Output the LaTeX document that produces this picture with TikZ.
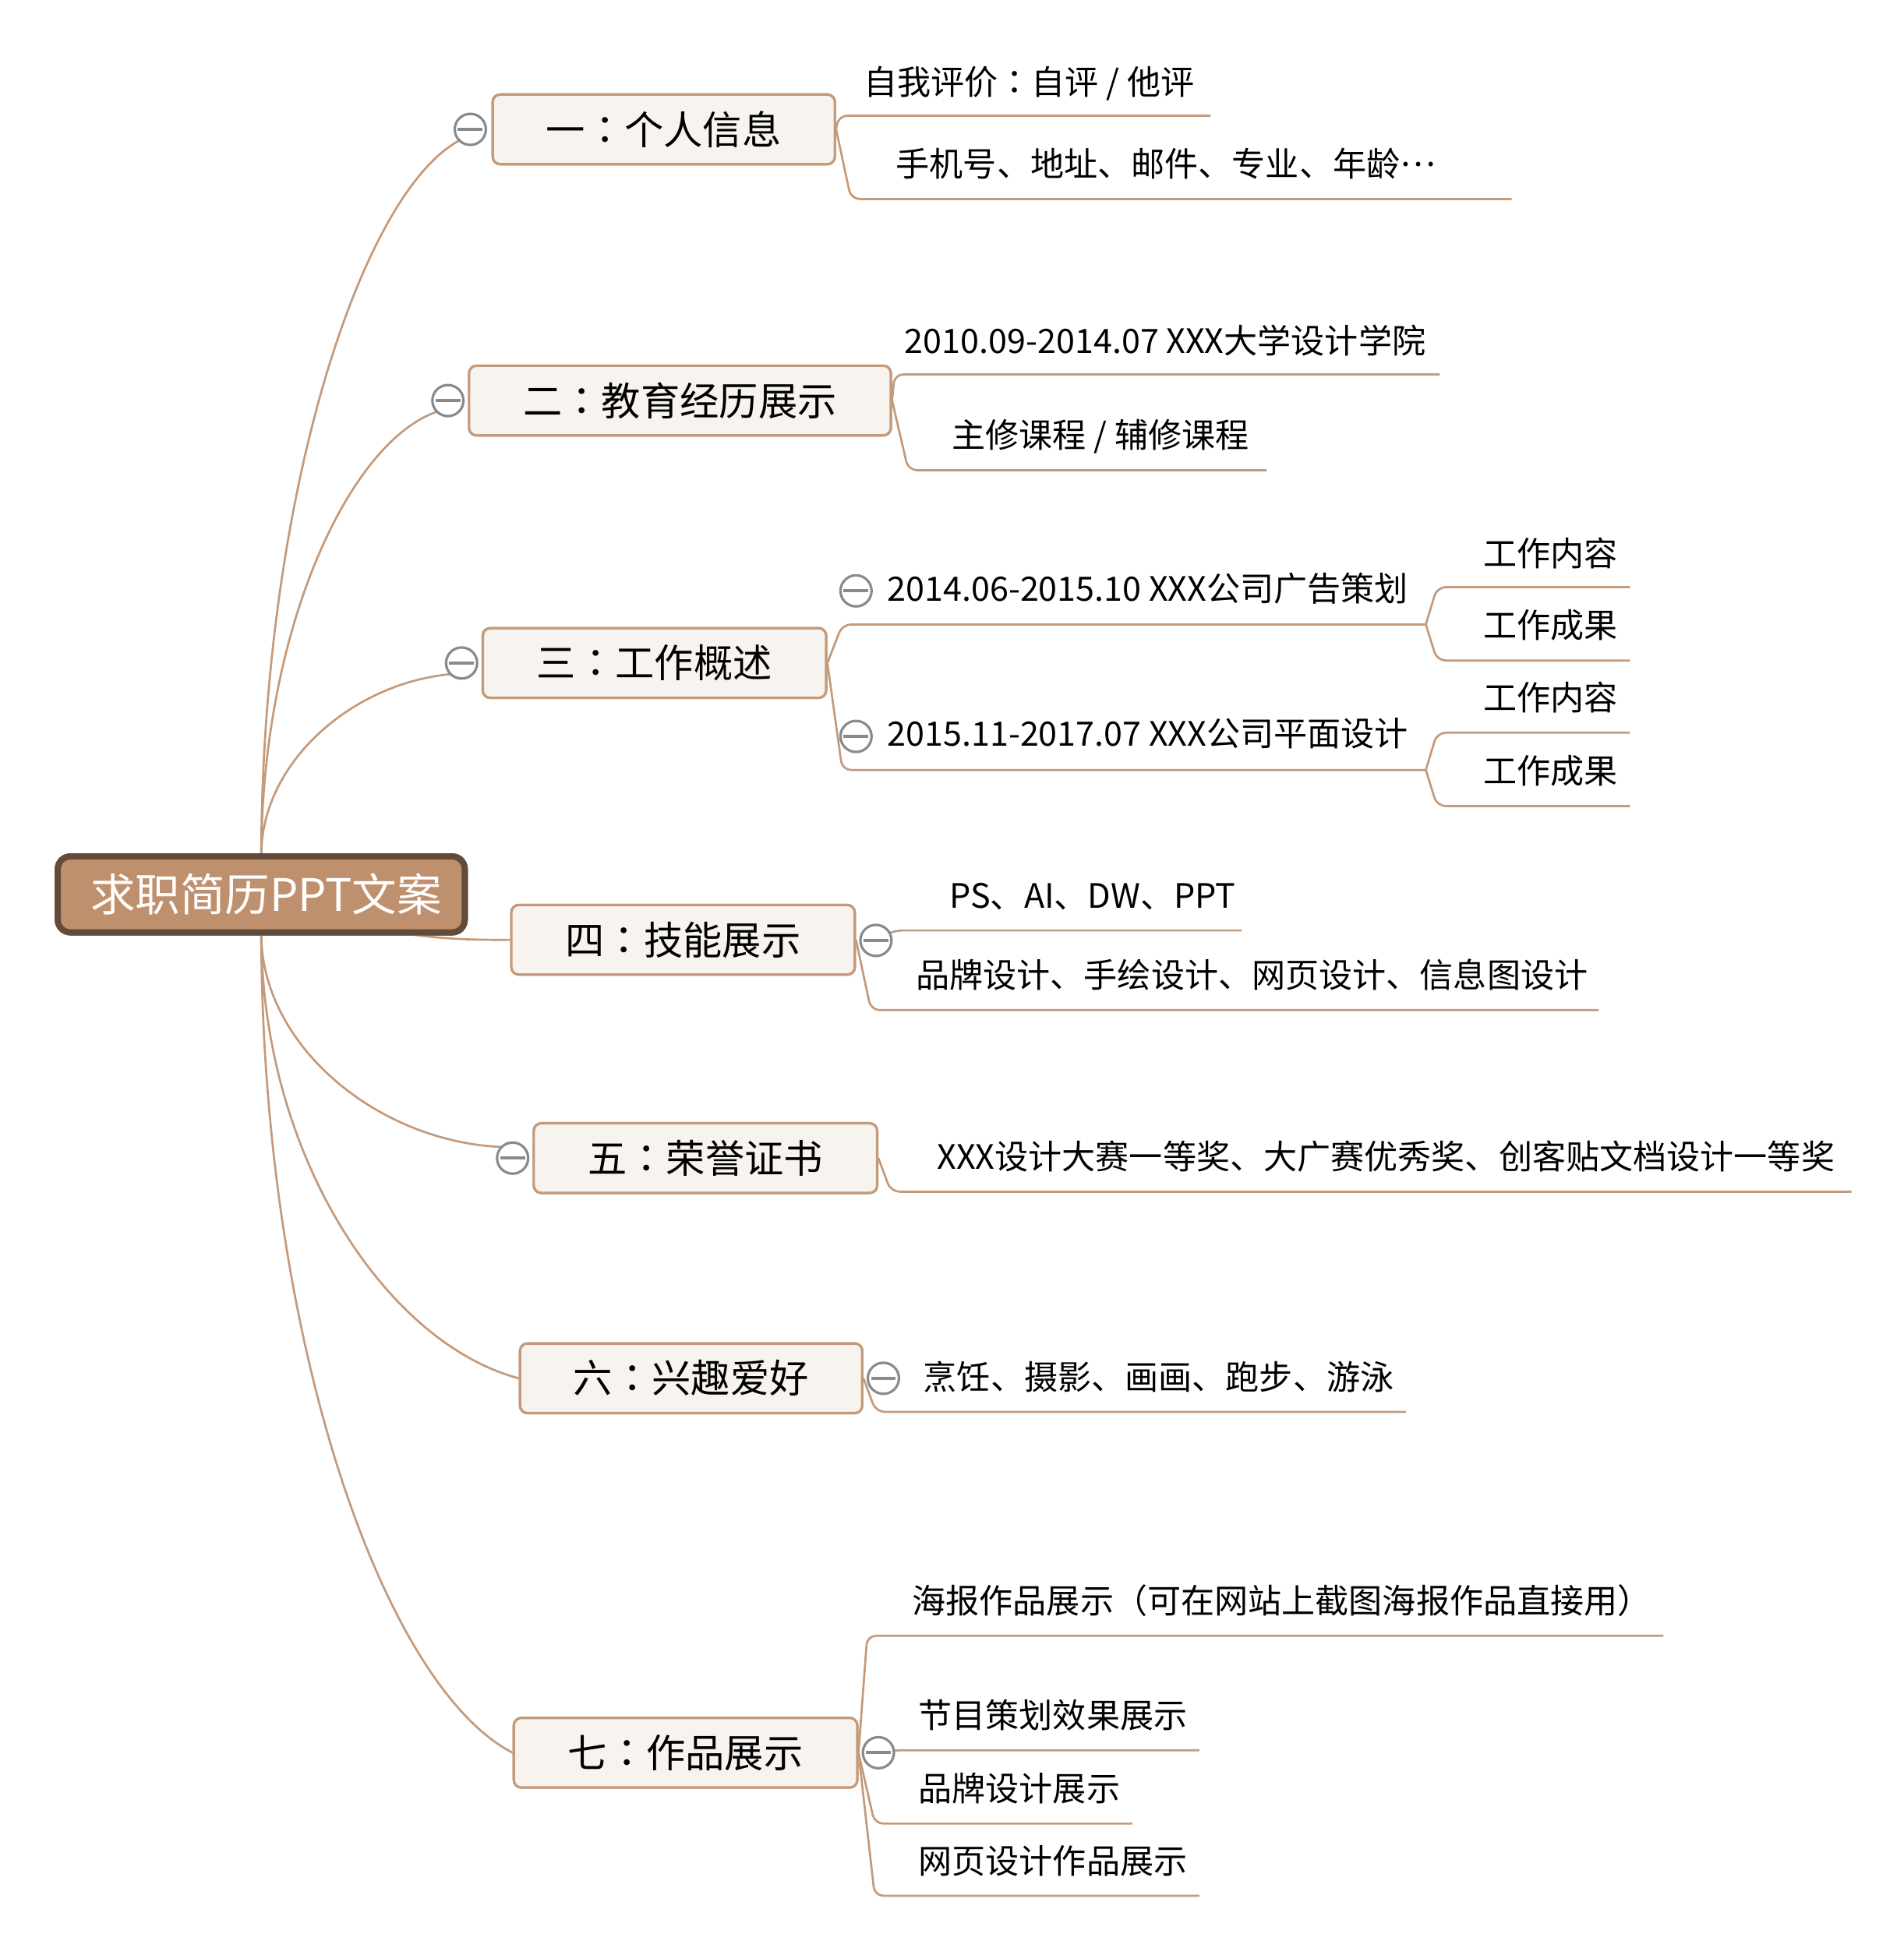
\documentclass[tikz,border=0pt]{standalone}
\usepackage{fontspec}
\setmainfont{Noto Sans CJK SC}
\newfontfamily\tcfont{Noto Sans CJK TC}
\newcommand{\cc}{{\tcfont ：}}
\newcommand{\midell}{\raisebox{0.3em}{…}}
\usetikzlibrary{calc}
\definecolor{lnk}{HTML}{C49A7A}
\definecolor{boxb}{HTML}{C49A7A}
\definecolor{boxf}{HTML}{F7F3EF}
\definecolor{rootf}{HTML}{BF906D}
\definecolor{rootb}{HTML}{634B3B}
\definecolor{knob}{HTML}{8A8A8A}
\begin{document}
\begin{tikzpicture}[x=1pt,y=-1pt,
  link/.style={draw=lnk, line width=1.7pt},
  uline/.style={draw=lnk, line width=1.7pt, rounded corners=7pt},
  topic/.style={draw=boxb, fill=boxf, line width=2pt, rounded corners=6pt, minimum height=56pt, inner sep=0pt, font=\fontsize{31.5}{36}\selectfont},
  rootnode/.style={draw=rootb, fill=rootf, line width=5pt, rounded corners=10pt, minimum width=327pt, minimum height=61pt, text=white, inner sep=0pt, font=\fontsize{36}{40}\selectfont},
  knobc/.style={circle, draw=knob, fill=white, line width=2pt, minimum size=25pt, inner sep=0pt,
    path picture={\draw[knob, line width=2.4pt] ([xshift=-10pt]path picture bounding box.center) -- ([xshift=10pt]path picture bounding box.center);}},
  leaf/.style={anchor=base west, inner sep=0pt, font=\fontsize{27}{30}\selectfont}
]
\useasboundingbox (0,0) rectangle (1530,1566);

% topics (placed first to define anchors)
\node[topic, minimum width=275pt] (t1) at (533.5,104) {一\cc 个人信息};
\node[topic, minimum width=339pt] (t2) at (546.5,322) {二\cc 教育经历展示};
\node[topic, minimum width=276pt] (t3) at (526,533) {三\cc 工作概述};
\node[topic, minimum width=276pt] (t4) at (549,755.5) {四\cc 技能展示};
\node[topic, minimum width=276pt] (t5) at (567,931) {五\cc 荣誉证书};
\node[topic, minimum width=275pt] (t6) at (555.5,1108) {六\cc 兴趣爱好};
\node[topic, minimum width=276pt] (t7) at (551,1409) {七\cc 作品展示};
\node[rootnode] (root) at (210,719) {\hspace*{8pt}求职简历PPT文案};

\coordinate (k1p) at (378,104);
\coordinate (k2p) at (360,322);
\coordinate (k3p) at (371,533);
\coordinate (k31p) at (688,475);
\coordinate (k32p) at (688,592);
\coordinate (k4p) at (704,756);
\coordinate (k5p) at (412,931);
\coordinate (k6p) at (710,1108);
\coordinate (k7p) at (706,1409);

% underline coordinates
\coordinate (u11) at (674,93);   \coordinate (e11) at (973,93);
\coordinate (u12) at (684,160);  \coordinate (e12) at (1215,160);
\coordinate (u21) at (719,301);  \coordinate (e21) at (1157,301);
\coordinate (u22) at (730,378);  \coordinate (e22) at (1018,378);
\coordinate (u31) at (677,502);  \coordinate (e31) at (1146,502);
\coordinate (u32) at (677,619);  \coordinate (e32) at (1146,619);
\coordinate (u311) at (1155,472); \coordinate (e311) at (1310,472);
\coordinate (u312) at (1155,531); \coordinate (e312) at (1310,531);
\coordinate (u321) at (1155,589); \coordinate (e321) at (1310,589);
\coordinate (u322) at (1155,648); \coordinate (e322) at (1310,648);
\coordinate (u41) at (718,748);  \coordinate (e41) at (998,748);
\coordinate (u42) at (700,812);  \coordinate (e42) at (1285,812);
\coordinate (u51) at (716,958);  \coordinate (e51) at (1488,958);
\coordinate (u61) at (704,1135); \coordinate (e61) at (1130,1135);
\coordinate (u71) at (697,1315); \coordinate (e71) at (1337,1315);
\coordinate (u72) at (719,1407); \coordinate (e72) at (964,1407);
\coordinate (u73) at (703,1466); \coordinate (e73) at (910,1466);
\coordinate (u74) at (703,1524); \coordinate (e74) at (964,1524);

% main branches
\draw[link] (root.north) .. controls (211,399) and (290,156) .. ([shift={(-9,9)}]k1p);
\draw[link] (root.north) .. controls (211,506) and (280,356) .. ([shift={(-9,9)}]k2p);
\draw[link] (root.north) .. controls (211,611) and (285,549) .. ([shift={(-9,9)}]k3p);
\draw[link] (root.center) .. controls (300,752) and (350,756) .. (t4.west);
\draw[link] (root.south) .. controls (211,842) and (305,918) .. ([shift={(-9,-9)}]k5p);
\draw[link] (root.south) .. controls (211,930) and (311,1080) .. (t6.west);
\draw[link] (root.south) .. controls (211,1080) and (309,1356) .. (t7.west);

% sub branches
\draw[uline] (t1.east) -- (u11) -- (e11);
\draw[uline] (t1.east) -- (u12) -- (e12);
\draw[uline] (t2.east) -- (u21) -- (e21);
\draw[uline] (t2.east) -- (u22) -- (e22);
\draw[uline] (t3.east) -- (u31) -- (e31);
\draw[uline] (t3.east) -- (u32) -- (e32);
\draw[uline] (e31) -- (u311) -- (e311);
\draw[uline] (e31) -- (u312) -- (e312);
\draw[uline] (e32) -- (u321) -- (e321);
\draw[uline] (e32) -- (u322) -- (e322);
\draw[uline] (k4p) -- (u41) -- (e41);
\draw[uline] (t4.east) -- (u42) -- (e42);
\draw[uline] (t5.east) -- (u51) -- (e51);
\draw[uline] (t6.east) -- (u61) -- (e61);
\draw[uline] (t7.east) -- (u71) -- (e71);
\draw[uline] (k7p) -- (u72) -- (e72);
\draw[uline] (t7.east) -- (u73) -- (e73);
\draw[uline] (t7.east) -- (u74) -- (e74);

% boxes on top of connectors
\node[topic, minimum width=275pt] at (t1) {一\cc 个人信息};
\node[topic, minimum width=339pt] at (t2) {二\cc 教育经历展示};
\node[topic, minimum width=276pt] at (t3) {三\cc 工作概述};
\node[topic, minimum width=276pt] at (t4) {四\cc 技能展示};
\node[topic, minimum width=276pt] at (t5) {五\cc 荣誉证书};
\node[topic, minimum width=275pt] at (t6) {六\cc 兴趣爱好};
\node[topic, minimum width=276pt] at (t7) {七\cc 作品展示};
\node[rootnode] at (root) {\hspace*{8pt}求职简历PPT文案};

% knobs
\node[knobc] (k1) at (k1p) {};
\node[knobc] (k2) at (k2p) {};
\node[knobc] (k3) at (k3p) {};
\node[knobc] (k31) at (k31p) {};
\node[knobc] (k32) at (k32p) {};
\node[knobc] (k4) at (k4p) {};
\node[knobc] (k5) at (k5p) {};
\node[knobc] (k6) at (k6p) {};
\node[knobc] (k7) at (k7p) {};

% leaf texts
\node[leaf] (l11) at (694,76) {自我评价\cc 自评 / 他评};
\node[leaf] (l12) at (720,142) {手机号、地址、邮件、专业、年龄\midell};
\node[leaf] (l21) at (727,284) {2010.09-2014.07 XXX大学设计学院};
\node[leaf] (l22) at (765,360) {主修课程 / 辅修课程};
\node[leaf] (l31) at (713,483) {2014.06-2015.10 XXX公司广告策划};
\node[leaf] (l32) at (713,600) {2015.11-2017.07 XXX公司平面设计};
\node[leaf] (l311) at (1192,455) {工作内容};
\node[leaf] (l312) at (1192,513) {工作成果};
\node[leaf] (l321) at (1192,571) {工作内容};
\node[leaf] (l322) at (1192,630) {工作成果};
\node[leaf] (l41) at (763,730) {PS、AI、DW、PPT};
\node[leaf] (l42) at (736,794) {品牌设计、手绘设计、网页设计、信息图设计};
\node[leaf] (l51) at (753,940) {XXX设计大赛一等奖、大广赛优秀奖、创客贴文档设计一等奖};
\node[leaf] (l61) at (742,1117) {烹饪、摄影、画画、跑步、游泳};
\node[leaf] (l71) at (733,1297) {海报作品展示（可在网站上截图海报作品直接用）};
\node[leaf] (l72) at (738,1389) {节目策划效果展示};
\node[leaf] (l73) at (738,1448) {品牌设计展示};
\node[leaf] (l74) at (738,1506) {网页设计作品展示};
\end{tikzpicture}
\end{document}
